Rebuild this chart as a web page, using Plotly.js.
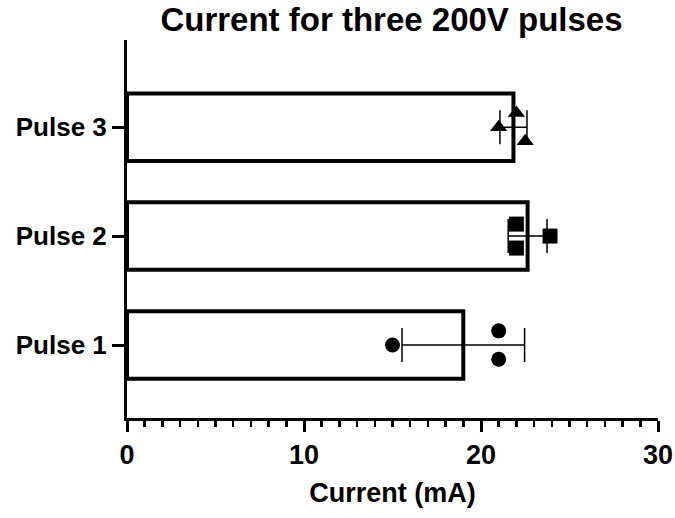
<!DOCTYPE html>
<html><head><meta charset="utf-8">
<script src="https://cdn.plot.ly/plotly-3.0.1.min.js"></script>
<style>body{margin:0;background:#fff}#c{width:675px;height:518px}</style>
</head><body><div id="c"></div>
<script>
var categories = ['Pulse 1', 'Pulse 2', 'Pulse 3'];
var pulse1 = [15.0, 21.0, 21.0];
var pulse2 = [22.0, 22.0, 23.9];
var pulse3 = [21.0, 22.0, 22.5];
var xTickVals = [0, 10, 20, 30];

var groups = [pulse1, pulse2, pulse3];
var symbols = ['circle', 'square', 'triangle-up'];
var jitter = [[0, 0.13, -0.13], [0.11, -0.11, 0], [0, 0.13, -0.13]];

function mean(a){return a.reduce(function(s,v){return s+v;},0)/a.length;}
function sd(a){var m=mean(a);return Math.sqrt(a.reduce(function(s,v){return s+(v-m)*(v-m);},0)/(a.length-1));}

var means = groups.map(mean);
var sds = groups.map(sd);
var yIdx = categories.map(function(_, i){return i;});

var traces = [{
  type: 'bar', orientation: 'h', x: means, y: yIdx, width: 0.62,
  marker: {color: '#ffffff', line: {color: '#000', width: 4}},
  hoverinfo: 'skip', showlegend: false
}];
groups.forEach(function(g, i){
  traces.push({
    type: 'scatter', mode: 'markers', x: g,
    y: g.map(function(_, j){return i + jitter[i][j];}),
    marker: {symbol: symbols[i], color: '#000', size: 15, line: {width: 0}},
    showlegend: false
  });
});
traces.push({
  type: 'scatter', mode: 'markers', x: means, y: yIdx,
  marker: {size: 1, color: 'rgba(0,0,0,0)'},
  error_x: {type: 'data', array: sds, visible: true, color: '#000', thickness: 1.5, width: 17},
  showlegend: false
});

var layout = {
  width: 675, height: 518,
  margin: {l: 127, r: 17, t: 40, b: 100},
  paper_bgcolor: '#fff', plot_bgcolor: '#fff',
  font: {family: 'Liberation Sans, Arial, sans-serif', color: '#000'},
  title: {text: '<b>Current for three 200V pulses</b>', font: {size: 33, color: '#000'}, x: 0.58, xanchor: 'center', y: 0.985, yanchor: 'top'},
  bargap: 0,
  xaxis: {
    range: [0, 30], tickvals: xTickVals, ticktext: xTickVals.map(function(v){return '<b>' + v + '</b>';}),
    ticks: 'outside', ticklen: 11, tickwidth: 3, tickcolor: '#000',
    minor: {dtick: 1, ticks: 'outside', ticklen: 6, tickwidth: 2.5, tickcolor: '#000', showgrid: false},
    showline: true, linewidth: 3, linecolor: '#000', showgrid: false, zeroline: false,
    tickfont: {size: 27, color: '#000'},
    title: {text: '<b>Current (mA)</b>', font: {size: 27, color: '#000'}, standoff: 14}
  },
  yaxis: {
    range: [-0.67, 2.8], tickvals: yIdx, ticktext: categories.map(function(c){return '<b>' + c + '</b>';}),
    ticks: 'outside', ticklen: 12, tickwidth: 3, tickcolor: '#000',
    showline: true, linewidth: 3, linecolor: '#000', showgrid: false, zeroline: false,
    tickfont: {size: 26, color: '#000'}
  }
};
Plotly.newPlot('c', traces, layout, {displayModeBar: false, staticPlot: true});
</script></body></html>
